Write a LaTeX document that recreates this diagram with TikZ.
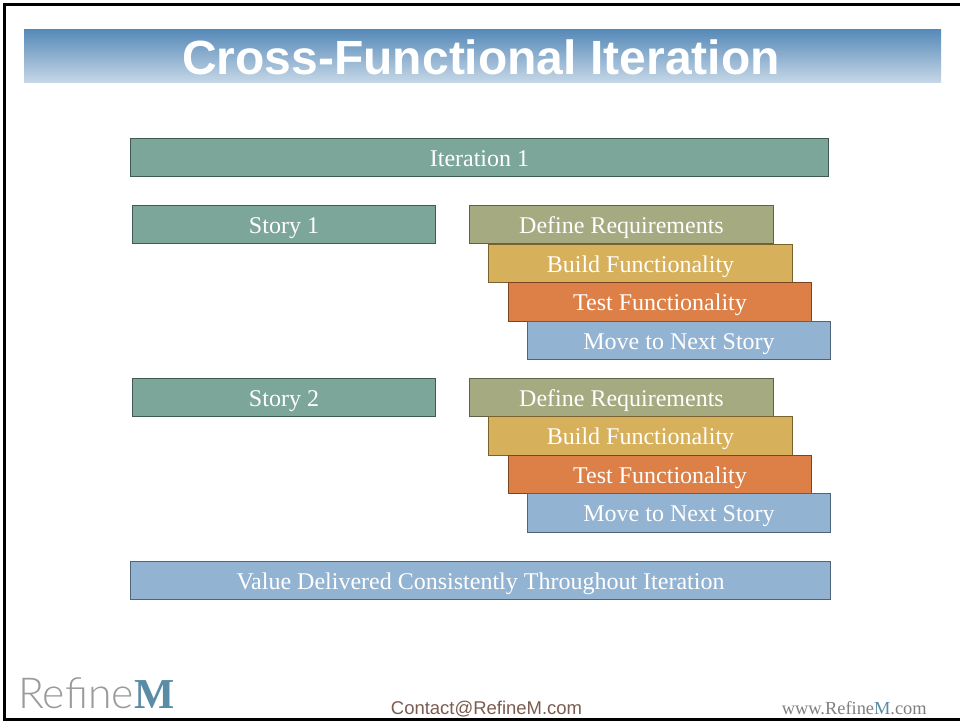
\documentclass[tikz,border=0pt]{standalone}
\usepackage{fontspec}
\setmainfont{Liberation Serif}
\newfontfamily\headfont{Liberation Sans}
\newfontfamily\logofont{Lato Light}
\definecolor{teal1}{HTML}{7CA69A}
\definecolor{tealedge}{HTML}{3F5A52}
\definecolor{olive1}{HTML}{A5AA80}
\definecolor{oliveedge}{HTML}{5F6248}
\definecolor{gold1}{HTML}{D7B05C}
\definecolor{goldedge}{HTML}{7A6130}
\definecolor{orange1}{HTML}{DC8047}
\definecolor{orangeedge}{HTML}{7D4422}
\definecolor{blue1}{HTML}{93B3D2}
\definecolor{blueedge}{HTML}{4F6478}
\definecolor{headtop}{HTML}{5589B7}
\definecolor{headbot}{HTML}{C6D7E7}
\definecolor{contact}{HTML}{7A5C50}
\definecolor{webgray}{HTML}{7F7F7F}
\definecolor{logoblue}{HTML}{5A8CA6}
\definecolor{logogray}{HTML}{9A9A9A}
\tikzset{
  bar/.style={draw=#1,line width=0.8pt,minimum height=28.9pt,inner sep=0pt,text=white,text height=13pt,text depth=0.2pt,font=\fontsize{18pt}{20pt}\selectfont},
  tealbar/.style={bar=tealedge,fill=teal1},
  olivebar/.style={bar=oliveedge,fill=olive1},
  goldbar/.style={bar=goldedge,fill=gold1},
  orangebar/.style={bar=orangeedge,fill=orange1},
  bluebar/.style={bar=blueedge,fill=blue1},
  w303/.style={minimum width=227.6pt},
}
\begin{document}
\begin{tikzpicture}[x=0.75pt,y=-0.75pt]
\useasboundingbox (0,0) rectangle (960,721);
\fill[white] (0,0) rectangle (960,721);
% frame
\draw[black,line width=2.2pt] (960,4.5) -- (4.5,4.5) -- (4.5,719.5) -- (960,719.5);
% heading
\shade[top color=headtop,bottom color=headbot,shading angle=0] (24,29) rectangle (941,82.5);
\node[text=white,font=\headfont\bfseries\fontsize{36pt}{40pt}\selectfont,inner sep=0pt] (title) at (481,57) {Cross-Functional Iteration};
% bars
\node[tealbar,minimum width=524pt] (iter) at (479.5,157.5) {Iteration 1};
\node[tealbar,w303] (s1) at (284,224.5) {Story 1};
\node[olivebar,w303] (d1) at (621.5,224.5) {Define Requirements};
\node[goldbar,w303] (b1) at (640.5,263.5) {Build Functionality};
\node[orangebar,w303] (t1) at (660,302) {Test Functionality};
\node[bluebar,w303] (m1) at (679,340.5) {Move to Next Story};
\node[tealbar,w303] (s2) at (284,397.5) {Story 2};
\node[olivebar,w303] (d2) at (621.5,397.5) {Define Requirements};
\node[goldbar,w303] (b2) at (640.5,436) {Build Functionality};
\node[orangebar,w303] (t2) at (660,474.5) {Test Functionality};
\node[bluebar,w303] (m2) at (679,513) {Move to Next Story};
\node[bluebar,minimum width=525.5pt] (val) at (480.5,580.5) {Value Delivered Consistently Throughout Iteration};
% footer
\node[anchor=base west,inner sep=0pt,text=logogray,font=\logofont\fontsize{32pt}{34pt}\selectfont] (logoa) at (18,708) {Refine};
\node[anchor=base west,inner sep=0pt,text=logoblue,font=\bfseries\fontsize{32pt}{34pt}\selectfont] (logob) at (134,708) {M};
\node[anchor=base,inner sep=0pt,text=contact,font=\headfont\fontsize{13.85pt}{16pt}\selectfont] (mail) at (486.5,714) {Contact@RefineM.com};
\node[anchor=base east,inner sep=0pt,text=webgray,font=\fontsize{13.8pt}{15pt}\selectfont] (web) at (927,714) {www.Refine{\textcolor{logoblue}{M}}.com};
\end{tikzpicture}
\end{document}
